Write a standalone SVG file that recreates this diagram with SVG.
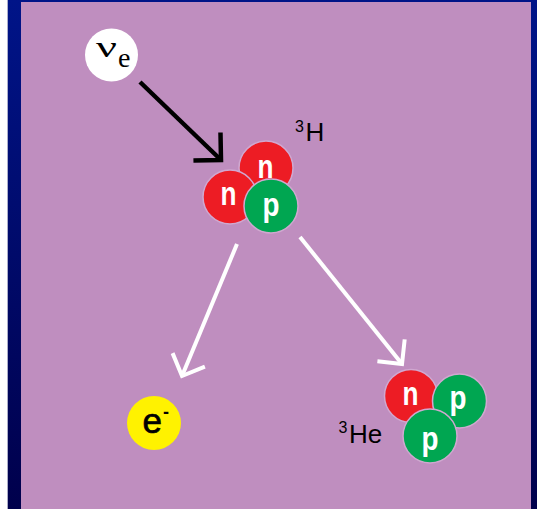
<svg xmlns="http://www.w3.org/2000/svg" width="537" height="509" viewBox="0 0 537 509">
<defs>
<linearGradient id="frame" x1="0" y1="0" x2="0" y2="1">
<stop offset="0" stop-color="#001488"/>
<stop offset="1" stop-color="#00004c"/>
</linearGradient>
<marker id="headBlack" markerUnits="userSpaceOnUse" viewBox="-24 -24 30 48" refX="0" refY="0" markerWidth="30" markerHeight="48" orient="auto" overflow="visible">
<path d="M -19.5 -19.5 L 0 0 L -19.5 19.5" fill="none" stroke="#000" stroke-width="4.5" stroke-linejoin="miter"/>
</marker>
<marker id="headWhite" markerUnits="userSpaceOnUse" viewBox="-24 -24 30 48" refX="0" refY="0" markerWidth="30" markerHeight="48" orient="auto" overflow="visible">
<path d="M -17.5 -17.5 L 0 0 L -17.5 17.5" fill="none" stroke="#fff" stroke-width="4" stroke-linejoin="miter"/>
</marker>
</defs>
<style>
.n { fill: #ED1C24; stroke: #d0a8d0; stroke-width: 1.5; }
.p { fill: #00A651; stroke: #d0a8d0; stroke-width: 1.5; }
.lbl { font-family: "Liberation Sans", Arial, sans-serif; font-weight: bold; font-size: 33px; fill: #fff; text-anchor: middle; }
.iso { font-family: "Liberation Sans", Arial, sans-serif; font-size: 26px; fill: #000; }
.sup { font-size: 16px; }
</style>
<rect x="0" y="0" width="537" height="509" fill="#fff"/>
<rect x="7.5" y="0" width="529.5" height="509" fill="url(#frame)"/>
<rect x="7" y="0" width="0.8" height="509" fill="#b8b8d0"/>
<rect x="21" y="2" width="510" height="507" fill="#BF8EBF"/>

<g id="connectors">
<line x1="140" y1="82" x2="221" y2="160" stroke="#000" stroke-width="4.5" marker-end="url(#headBlack)"/>
<line x1="237" y1="244" x2="182" y2="376" stroke="#fff" stroke-width="4" marker-end="url(#headWhite)"/>
<line x1="300" y1="237" x2="402" y2="364" stroke="#fff" stroke-width="4" marker-end="url(#headWhite)"/>
</g>

<g id="neutrino">
<circle cx="111.5" cy="55" r="26.5" fill="#fff"/>
<text x="96" y="57" font-family="'Liberation Serif', 'Times New Roman', serif" font-size="30" textLength="21" lengthAdjust="spacingAndGlyphs">ν</text>
<text x="118" y="67" font-family="'Liberation Serif', 'Times New Roman', serif" font-size="28">e</text>
</g>

<g id="tritium">
<circle class="n" cx="266" cy="168" r="27"/>
<circle class="n" cx="230" cy="197" r="27"/>
<circle class="p" cx="271" cy="206" r="27"/>
<text class="lbl" x="265.5" y="178" textLength="16" lengthAdjust="spacingAndGlyphs">n</text>
<text class="lbl" x="228.5" y="205" textLength="16" lengthAdjust="spacingAndGlyphs">n</text>
<text class="lbl" x="271" y="216" textLength="17" lengthAdjust="spacingAndGlyphs">p</text>
<text class="iso" x="295" y="141"><tspan class="sup" dy="-9">3</tspan><tspan dy="9" dx="1.5">H</tspan></text>
</g>

<g id="electron">
<circle cx="154" cy="423" r="27" fill="#FFF200"/>
<text x="142.5" y="433" font-family="'Liberation Sans', Arial, sans-serif" font-size="35" fill="#000" stroke="#000" stroke-width="0.7">e</text>
<text x="163" y="418" font-family="'Liberation Sans', Arial, sans-serif" font-size="18" font-weight="bold" fill="#000">-</text>
</g>

<g id="helium3">
<circle class="n" cx="411" cy="396" r="26.5"/>
<circle class="p" cx="459.5" cy="401" r="27"/>
<circle class="p" cx="430" cy="436" r="27"/>
<text class="lbl" x="410.5" y="405" textLength="16" lengthAdjust="spacingAndGlyphs">n</text>
<text class="lbl" x="458" y="409" textLength="17" lengthAdjust="spacingAndGlyphs">p</text>
<text class="lbl" x="430" y="450" textLength="17" lengthAdjust="spacingAndGlyphs">p</text>
<text class="iso" x="338.5" y="443"><tspan class="sup" dy="-10">3</tspan><tspan dy="10" dx="1.5">He</tspan></text>
</g>
</svg>
